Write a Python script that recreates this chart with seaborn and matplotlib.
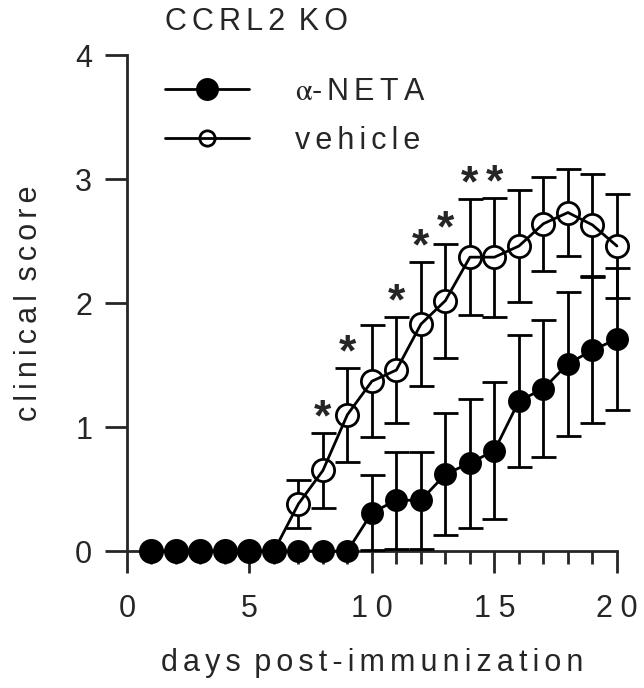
import matplotlib
matplotlib.use("Agg")
import matplotlib.pyplot as plt
from matplotlib.ticker import MultipleLocator, FixedLocator, FuncFormatter
import numpy as np
import seaborn as sns

# data (mean +/- SEM)
days = list(range(1, 21))
neta_mean = [0, 0, 0, 0, 0, 0, 0, 0, 0, 0.31, 0.41, 0.41, 0.62, 0.71, 0.81, 1.21, 1.31, 1.51, 1.62, 1.71]
neta_sem = [0, 0, 0, 0, 0, 0, 0, 0, 0, 0.30, 0.39, 0.39, 0.49, 0.52, 0.55, 0.53, 0.55, 0.58, 0.59, 0.57]
vehicle_mean = [0, 0, 0, 0, 0, 0, 0.38, 0.65, 1.10, 1.37, 1.46, 1.83, 2.02, 2.37, 2.37, 2.46, 2.64, 2.73, 2.63, 2.46]
vehicle_sem = [0, 0, 0, 0, 0, 0, 0.19, 0.30, 0.38, 0.45, 0.43, 0.50, 0.46, 0.47, 0.48, 0.45, 0.38, 0.35, 0.41, 0.42]
star_days = [8, 9, 11, 12, 13, 14, 15]

title = "CCRL2 KO"
x_label = "days post-immunization"
y_label = "clinical score"
x_ticks = [0, 5, 10, 15, 20]
y_ticks = [0, 1, 2, 3, 4]

SP = "\u2006"       # letter spacing for labels
SP_NUM = "\u2005"   # letter spacing for tick numbers
FS = 22


def spaced(s):
    return (" " + SP).join(SP.join(w) for w in s.split(" "))


sns.set_style("ticks")
plt.rcParams["font.family"] = ["Liberation Sans", "DejaVu Sans"]
plt.rcParams["mathtext.fontset"] = "stix"

fig = plt.figure(figsize=(6.44, 6.88), dpi=100)
ax = fig.add_axes([0.197, 0.199, 0.761, 0.721])

lw = 2.0


def draw_errorbars(mean, sem, z):
    mean = np.array(mean)
    sem = np.array(sem)
    m = sem > 0
    x = np.array(days)[m]
    low = np.minimum(sem[m], mean[m])
    eb = ax.errorbar(x, mean[m], yerr=[low, sem[m]], fmt="none", ecolor="black",
                     elinewidth=lw, capsize=9, capthick=lw, zorder=z)
    for art in eb.lines[1] + eb.lines[2]:
        art.set_clip_on(False)


# vehicle error bars + white disks so the bars do not show inside the open circles
draw_errorbars(vehicle_mean, vehicle_sem, 2)
ax.plot(days, vehicle_mean, ls="none", marker="o", ms=16, mfc="white", mec="white",
        zorder=2.5, clip_on=False)

# alpha-NETA
draw_errorbars(neta_mean, neta_sem, 4)
sns.lineplot(x=days, y=neta_mean, ax=ax, color="black", marker="o", markersize=15,
             markerfacecolor="black", markeredgecolor="black", markeredgewidth=1.5,
             linewidth=lw, errorbar=None,
             label=r"$\mathrm{\alpha}$" + "-" + SP + SP.join("NETA"),
             zorder=5, clip_on=False)
sns.lineplot(x=days, y=vehicle_mean, ax=ax, color="black", marker="o", markersize=16,
             markerfacecolor="none", markeredgecolor="black", markeredgewidth=2,
             linewidth=lw, errorbar=None, label=spaced("vehicle"), zorder=3, clip_on=False)

# significance stars above the vehicle error bars
for d in star_days:
    i = days.index(d)
    ax.text(d, vehicle_mean[i] + vehicle_sem[i] + 0.02, "*", ha="center", va="baseline",
            fontsize=32, fontweight="bold", zorder=6)

ax.set_xlim(0, 20)
ax.set_ylim(0, 4)
ax.xaxis.set_major_locator(FixedLocator(x_ticks))
ax.xaxis.set_minor_locator(MultipleLocator(1))
ax.yaxis.set_major_locator(FixedLocator(y_ticks))
fmt = FuncFormatter(lambda v, p: SP_NUM.join(str(int(round(v)))))
ax.xaxis.set_major_formatter(fmt)
ax.yaxis.set_major_formatter(fmt)

sns.despine(ax=ax)
for s in ["left", "bottom"]:
    ax.spines[s].set_linewidth(2)
ax.tick_params(axis="x", which="major", length=16, width=2, pad=15, labelsize=FS)
ax.tick_params(axis="x", which="minor", length=9, width=2)
ax.tick_params(axis="y", which="major", length=16, width=2, pad=9, labelsize=FS)

ax.set_xlabel(spaced(x_label), fontsize=FS)
ax.set_ylabel(spaced(y_label), fontsize=FS)
ax.xaxis.set_label_coords(0.5, -0.195)
ax.yaxis.set_label_coords(-0.170, 0.5)

ax.text(0.078, 1.067, spaced(title), transform=ax.transAxes, fontsize=FS,
        ha="left", va="center")

leg = ax.legend(loc="upper left", bbox_to_anchor=(0.078, 0.956), frameon=False, fontsize=FS,
                handlelength=2.75, handletextpad=1.5, labelspacing=0.61, borderpad=0,
                borderaxespad=0)
leg.legend_handles[1].set_markersize(11)

fig.savefig("out.png", dpi=100)
